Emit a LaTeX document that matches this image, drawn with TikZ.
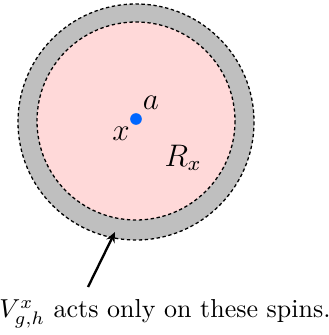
\documentclass[tikz,border=0pt]{standalone}
\usepackage{tikz}
\usetikzlibrary{arrows.meta,positioning}
\usepackage{xcolor}
\definecolor{spinblue}{RGB}{0,102,255}
\tikzset{
  ring/.style={draw, line width=0.5pt, dash pattern=on 1.3pt off 1.0pt},
  pointer/.style={-{Stealth[length=4pt,width=3.5pt]}, line width=0.9pt},
  tag/.style={font=\large, inner sep=1pt}
}

\begin{document}
\begin{tikzpicture}[x=0.385pt, y=-0.385pt]
\useasboundingbox (0,0) rectangle (328,335);
% outer shell and inner region
\draw[ring, fill=gray!50] (136,122) circle (118);
\draw[ring, fill=red!15] (136,121) circle (99);
% the point x
\node[circle, fill=spinblue, inner sep=0pt, minimum size=4.5pt] (site) at (136,119) {};
\node[tag] (alabel) at (151,103) {$a$};
\node[tag] (xlabel) at (121,134) {$x$};
\node[tag] (region) at (183,158) {$R_x$};
% caption with its pointer
\node (caption) at (165,314) {$V^x_{g,h}$ acts only on these spins.};
\coordinate (tail) at (88,287);
\coordinate (shell) at (115,232);
\draw[pointer] (tail) -- (shell);
\end{tikzpicture}
\end{document}
